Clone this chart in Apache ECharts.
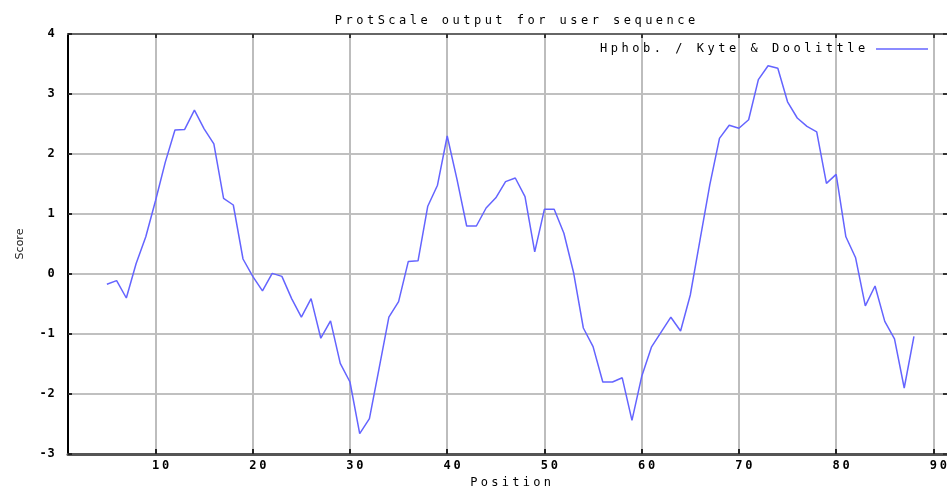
<!DOCTYPE html>
<html>
<head>
<meta charset="utf-8">
<title>ProtScale output for user sequence</title>
<script src="https://cdn.jsdelivr.net/npm/echarts@6/dist/echarts.min.js"></script>
<style>
  html, body { margin: 0; padding: 0; background: #fff; }
  #chart { width: 947px; height: 486px; }
</style>
</head>
<body>
<div id="chart"></div>
<script>
// Kyte & Doolittle hydrophobicity profile (window average per residue position)
const positions = [
  5, 6, 7, 8, 9, 10, 11, 12, 13, 14, 15, 16, 17, 18, 19, 20,
  21, 22, 23, 24, 25, 26, 27, 28, 29, 30, 31, 32, 33, 34, 35, 36,
  37, 38, 39, 40, 41, 42, 43, 44, 45, 46, 47, 48, 49, 50, 51, 52,
  53, 54, 55, 56, 57, 58, 59, 60, 61, 62, 63, 64, 65, 66, 67, 68,
  69, 70, 71, 72, 73, 74, 75, 76, 77, 78, 79, 80, 81, 82, 83, 84,
  85, 86, 87, 88
];
const scores = [
  -0.17, -0.11, -0.40, 0.17, 0.62, 1.22, 1.86, 2.40, 2.41, 2.73, 2.42, 2.17, 1.26, 1.15, 0.25, -0.04,
  -0.28, 0.01, -0.04, -0.41, -0.72, -0.41, -1.07, -0.78, -1.49, -1.80, -2.66, -2.41, -1.57, -0.72, -0.46, 0.21,
  0.22, 1.13, 1.48, 2.30, 1.58, 0.80, 0.80, 1.10, 1.27, 1.54, 1.60, 1.29, 0.37, 1.08, 1.08, 0.68,
  0.02, -0.90, -1.21, -1.80, -1.80, -1.73, -2.44, -1.71, -1.22, -0.97, -0.72, -0.95, -0.35, 0.57, 1.48, 2.26,
  2.48, 2.43, 2.57, 3.24, 3.47, 3.43, 2.87, 2.60, 2.46, 2.37, 1.51, 1.66, 0.62, 0.27, -0.53, -0.20,
  -0.79, -1.08, -1.90, -1.04
];
const xTickValues = [10, 20, 30, 40, 50, 60, 70, 80, 90];
const seriesName = 'Hphob. / Kyte & Doolittle';
const chartTitle = 'ProtScale output for user sequence';
const xAxisName = 'Position';
const yAxisName = 'Score';

const MONO = '"DejaVu Sans Mono", "Liberation Mono", monospace';
const LINE_COLOR = '#6464ff';

// Fixed-pitch text: every character gets its own equal-width cell
function spaced(text, key) {
  return Array.from(String(text)).map(ch => '{' + key + '|' + ch + '}').join('');
}
function cell(width, size, weight) {
  return { width: width, align: 'center', fontFamily: MONO, fontSize: size, fontWeight: weight || 'normal', color: '#000' };
}

const chart = echarts.init(document.getElementById('chart'), null, { renderer: 'canvas' });

chart.setOption({
  animation: false,
  backgroundColor: '#ffffff',
  title: {
    text: spaced(chartTitle, 't'),
    left: 510,
    textAlign: 'center',
    top: 10,
    textStyle: { rich: { t: cell(10.7, 12) } }
  },
  legend: {
    data: [seriesName],
    right: 14,
    top: 38,
    align: 'right',
    icon: 'rect',
    itemWidth: 52,
    itemHeight: 1.5,
    itemGap: 0,
    formatter: name => spaced(name, 'l'),
    textStyle: { padding: [0, 4, 0, 0], rich: { l: cell(10.75, 12) } }
  },
  grid: { left: 68, top: 34, right: 0, bottom: 32, containLabel: false, outerBoundsMode: 'none' },
  xAxis: [
    {
      type: 'value',
      position: 'bottom',
      min: 1,
      max: 91.4,
      name: spaced(xAxisName, 'n'),
      nameLocation: 'middle',
      nameGap: 22,
      nameTextStyle: { padding: [0, 0, 0, 6], rich: { n: cell(10.5, 12) } },
      axisLine: { show: true, onZero: false, lineStyle: { color: '#555', width: 3 } },
      axisTick: { show: true, inside: true, length: 5, customValues: xTickValues, lineStyle: { color: '#222', width: 2 } },
      axisLabel: {
        customValues: xTickValues,
        margin: 6,
        padding: [0, 0, 0, 10],
        formatter: v => spaced(v, 'x'),
        rich: { x: cell(10, 12, 'bold') }
      },
      splitLine: { show: true, lineStyle: { color: '#bdbdbd', width: 2 } }
    },
    {
      type: 'value',
      position: 'top',
      min: 1,
      max: 91.4,
      axisLine: { show: true, onZero: false, lineStyle: { color: '#666', width: 2 } },
      axisTick: { show: true, inside: true, length: 4, customValues: xTickValues, lineStyle: { color: '#333', width: 2 } },
      axisLabel: { show: false },
      splitLine: { show: false }
    }
  ],
  yAxis: [
    {
      type: 'value',
      position: 'left',
      min: -3,
      max: 4,
      interval: 1,
      name: yAxisName,
      nameLocation: 'middle',
      nameRotate: 90,
      nameGap: 42,
      nameTextStyle: { fontFamily: '"DejaVu Sans", sans-serif', fontSize: 11, color: '#222' },
      axisLine: { show: true, onZero: false, lineStyle: { color: '#000', width: 2 } },
      axisTick: { show: true, inside: true, length: 4, lineStyle: { color: '#222', width: 2 } },
      axisLabel: {
        margin: 13,
        formatter: v => spaced(v, 'y'),
        rich: { y: cell(8, 12, 'bold') }
      },
      splitLine: { show: true, lineStyle: { color: '#ababab', width: 1.5 } }
    },
    {
      type: 'value',
      position: 'right',
      min: -3,
      max: 4,
      interval: 1,
      axisLine: { show: false },
      axisTick: { show: true, inside: true, length: 4, lineStyle: { color: '#333', width: 2 } },
      axisLabel: { show: false },
      splitLine: { show: false }
    }
  ],
  series: [
    {
      name: seriesName,
      type: 'line',
      xAxisIndex: 0,
      yAxisIndex: 0,
      data: positions.map((p, i) => [p, scores[i]]),
      symbol: 'none',
      itemStyle: { color: LINE_COLOR },
      lineStyle: { color: LINE_COLOR, width: 1.5 },
      z: 5
    }
  ]
});
</script>
</body>
</html>
